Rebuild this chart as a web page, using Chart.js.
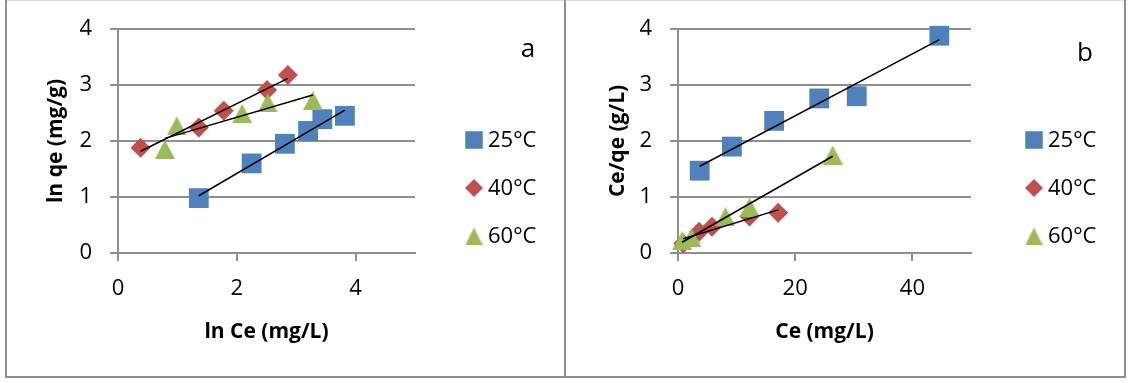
<!DOCTYPE html>
<html>
<head>
<meta charset="utf-8">
<title>Adsorption isotherms</title>
<script src="https://cdn.jsdelivr.net/npm/chart.js@4.4.1/dist/chart.umd.min.js"></script>
<style>
  html, body { margin: 0; padding: 0; background: #fff; }
  body { width: 1129px; height: 383px; position: relative; overflow: hidden; }
  .rule { position: absolute; background: #8f8f8f; }
  .panel { position: absolute; top: 1px; height: 375px; }
</style>
</head>
<body>
<div class="rule" style="left:5px;top:0;width:1121px;height:1px;background:#dedede"></div>
<div class="rule" style="left:5px;top:0;width:2px;height:378px"></div>
<div class="rule" style="left:564px;top:0;width:2px;height:378px"></div>
<div class="rule" style="left:1124px;top:0;width:2px;height:378px"></div>
<div class="rule" style="left:5px;top:376px;width:1121px;height:2px"></div>
<div class="panel" style="left:7px;width:557px"><canvas id="chartA" width="557" height="375"></canvas></div>
<div class="panel" style="left:566px;width:558px"><canvas id="chartB" width="558" height="375"></canvas></div>

<script>
// Temperatures of the three isotherm series
const seriesNames = ['25°C', '40°C', '60°C'];

// Panel a: Freundlich form, ln qe against ln Ce
const lnCe25 = [1.36, 2.25, 2.81, 3.20, 3.44, 3.82];
const lnQe25 = [0.98, 1.60, 1.95, 2.18, 2.39, 2.45];
const lnCe40 = [0.38, 1.36, 1.78, 2.51, 2.86];
const lnQe40 = [1.88, 2.24, 2.54, 2.91, 3.18];
const lnCe60 = [0.79, 0.99, 2.09, 2.52, 3.28];
const lnQe60 = [1.85, 2.27, 2.49, 2.68, 2.72];

// Panel b: Langmuir form, Ce/qe against Ce
const ce25 = [3.7, 9.2, 16.4, 24.1, 30.5, 44.6];
const ceQe25 = [1.47, 1.90, 2.36, 2.76, 2.80, 3.88];
const ce40 = [0.9, 3.6, 5.8, 12.2, 17.1];
const ceQe40 = [0.17, 0.38, 0.47, 0.65, 0.72];
const ce60 = [0.7, 2.3, 8.1, 12.2, 26.4];
const ceQe60 = [0.22, 0.28, 0.65, 0.82, 1.75];

// Axis ticks
const xTicksA = [0, 2, 4];
const xTicksB = [0, 20, 40];
const yTicks = [0, 1, 2, 3, 4];

const FONT = "'Open Sans', sans-serif";
const colors = ['#4F81BD', '#C0504D', '#9BBB59'];
const GRID = '#8f8f8f';

Chart.defaults.font.family = FONT;
Chart.defaults.color = '#000';

// Isosceles triangle sprite whose box is centred on the point
function triangleSprite(w, h, color) {
  const c = document.createElement('canvas');
  c.width = w; c.height = h;
  const g = c.getContext('2d');
  g.fillStyle = color;
  g.beginPath();
  g.moveTo(w / 2, 0);
  g.lineTo(w, h);
  g.lineTo(0, h);
  g.closePath();
  g.fill();
  return c;
}

const plotStyles = ['rect', 'rectRot', triangleSprite(20, 19, colors[2])];
const keyStyles = ['rect', 'rectRot', triangleSprite(17, 17, colors[2])];
const plotRadius = [14, 10, 10];
const keyRadius = [12.4, 9, 9];

// Least-squares straight line across the x range of one series
function trendLine(xs, ys) {
  const n = xs.length;
  const mx = xs.reduce((a, b) => a + b, 0) / n;
  const my = ys.reduce((a, b) => a + b, 0) / n;
  let sxy = 0, sxx = 0;
  for (let i = 0; i < n; i++) {
    sxy += (xs[i] - mx) * (ys[i] - my);
    sxx += (xs[i] - mx) * (xs[i] - mx);
  }
  const m = sxy / sxx, b = my - m * mx;
  const x0 = Math.min(...xs), x1 = Math.max(...xs);
  return [{ x: x0, y: m * x0 + b }, { x: x1, y: m * x1 + b }];
}

function fallbackMarker(ctx, style, r, x, y) {
  if (typeof style !== 'string') {
    ctx.drawImage(style, x - style.width / 2, y - style.height / 2);
    return;
  }
  ctx.beginPath();
  if (style === 'rect') {
    const s = r * Math.SQRT1_2;
    ctx.rect(x - s, y - s, 2 * s, 2 * s);
  } else {
    ctx.moveTo(x - r, y); ctx.lineTo(x, y - r); ctx.lineTo(x + r, y); ctx.lineTo(x, y + r);
    ctx.closePath();
  }
  ctx.fill();
}

// Series key on the right and the panel letter
const panelKey = {
  id: 'panelKey',
  afterDraw(chart, args, opts) {
    const ctx = chart.ctx;
    ctx.save();
    const series = chart.data.datasets.filter(d => seriesNames.includes(d.label));
    series.forEach((d, i) => {
      const y = opts.rowY[i];
      ctx.fillStyle = d.backgroundColor;
      if (Chart.helpers && Chart.helpers.drawPoint) {
        Chart.helpers.drawPoint(ctx, { pointStyle: keyStyles[i], radius: keyRadius[i], rotation: 0, borderWidth: 0 }, opts.markerX, y);
      } else {
        fallbackMarker(ctx, keyStyles[i], keyRadius[i], opts.markerX, y);
      }
      ctx.fillStyle = '#000';
      ctx.font = opts.keyFont;
      ctx.textAlign = 'left';
      ctx.textBaseline = 'middle';
      ctx.fillText(d.label, opts.textX, y + 1);
    });
    ctx.font = opts.letterFont;
    ctx.textAlign = 'center';
    ctx.textBaseline = 'alphabetic';
    ctx.fillStyle = '#000';
    ctx.fillText(opts.letter, opts.letterX, opts.letterY);
    ctx.restore();
  }
};

function buildChart(id, cfg) {
  const datasets = [];
  cfg.series.forEach((s, i) => {
    datasets.push({
      label: seriesNames[i],
      data: s.x.map((x, k) => ({ x: x, y: s.y[k] })),
      pointStyle: plotStyles[i],
      pointRadius: plotRadius[i],
      pointHoverRadius: plotRadius[i],
      backgroundColor: colors[i],
      borderWidth: 0,
      pointBorderWidth: 0,
      showLine: false,
      clip: false,
      order: 3 - i
    });
  });
  cfg.series.forEach((s, i) => {
    datasets.push({
      label: 'fit ' + seriesNames[i],
      data: trendLine(s.x, s.y),
      showLine: true,
      borderColor: '#000',
      borderWidth: 1.5,
      pointRadius: 0,
      pointHoverRadius: 0,
      clip: false,
      order: 0
    });
  });

  return new Chart(document.getElementById(id), {
    type: 'scatter',
    data: { datasets },
    plugins: [panelKey],
    options: {
      responsive: false,
      animation: false,
      events: [],
      layout: { padding: { left: 0, top: 28, right: cfg.canvasW - cfg.areaRight, bottom: 0 } },
      plugins: {
        legend: { display: false },
        tooltip: { enabled: false },
        panelKey: {
          rowY: [139, 187, 235],
          markerX: cfg.markerX,
          textX: cfg.textX,
          keyFont: '22px ' + FONT,
          letter: cfg.letter,
          letterX: cfg.letterX,
          letterY: cfg.letterY,
          letterFont: '26px ' + FONT
        }
      },
      scales: {
        x: {
          type: 'linear',
          min: 0,
          max: cfg.xMax,
          afterBuildTicks: sc => { sc.ticks = cfg.xTicks.map(v => ({ value: v })); },
          afterFit: sc => { sc.height = 375 - 252; sc.paddingLeft = 0; sc.paddingRight = 0; },
          ticks: { autoSkip: false, maxRotation: 0, padding: 15, font: { size: 22 }, color: '#000' },
          grid: { drawOnChartArea: false, drawTicks: true, tickLength: 8, color: GRID, lineWidth: 2 },
          border: { display: true, color: GRID, width: 2 },
          title: {
            display: true, text: cfg.xTitle, color: '#000',
            font: { size: 21, weight: 'bold' }, padding: { bottom: 31 }
          }
        },
        y: {
          type: 'linear',
          min: 0,
          max: 4,
          afterBuildTicks: sc => { sc.ticks = yTicks.map(v => ({ value: v })); },
          afterFit: sc => { sc.width = cfg.areaLeft; sc.paddingTop = 0; sc.paddingBottom = 0; },
          ticks: { autoSkip: false, padding: 18, font: { size: 22 }, color: '#000' },
          grid: { drawTicks: true, tickLength: 8, color: GRID, lineWidth: 2 },
          border: { display: true, color: GRID, width: 2 },
          title: {
            display: true, text: cfg.yTitle, color: '#000',
            font: { size: 21, weight: 'bold' }, padding: { top: cfg.yTitlePad }
          }
        }
      }
    }
  });
}

buildChart('chartA', {
  series: [
    { x: lnCe25, y: lnQe25 },
    { x: lnCe40, y: lnQe40 },
    { x: lnCe60, y: lnQe60 }
  ],
  canvasW: 557, areaLeft: 111, areaRight: 408,
  xMax: 5, xTicks: xTicksA,
  xTitle: 'ln Ce (mg/L)', yTitle: 'ln qe (mg/g)', yTitlePad: 36,
  markerX: 467, textX: 481,
  letter: 'a', letterX: 521, letterY: 56
});

buildChart('chartB', {
  series: [
    { x: ce25, y: ceQe25 },
    { x: ce40, y: ceQe40 },
    { x: ce60, y: ceQe60 }
  ],
  canvasW: 558, areaLeft: 112, areaRight: 405,
  xMax: 50, xTicks: xTicksB,
  xTitle: 'Ce (mg/L)', yTitle: 'Ce/qe (g/L)', yTitlePad: 39,
  markerX: 468, textX: 482,
  letter: 'b', letterX: 519, letterY: 60
});
</script>
</body>
</html>
